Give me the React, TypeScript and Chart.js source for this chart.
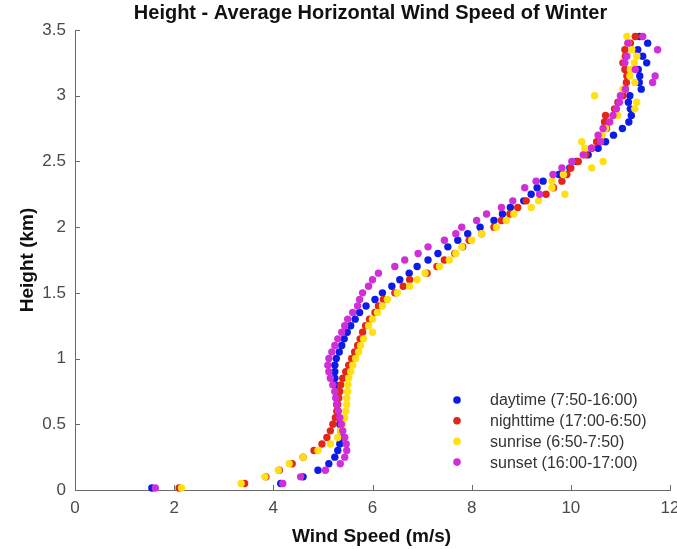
import { useEffect, useRef } from "react";
import { Chart, registerables } from "chart.js";

Chart.register(...registerables);

// Height gates (km)
const heights = [
  0.015, 0.05, 0.1, 0.15, 0.2, 0.25, 0.3, 0.35, 0.4, 0.45,
  0.5, 0.55, 0.6, 0.65, 0.7, 0.75, 0.8, 0.85, 0.9, 0.95,
  1.0, 1.05, 1.1, 1.15, 1.2, 1.25, 1.3, 1.35, 1.4, 1.45,
  1.5, 1.55, 1.6, 1.65, 1.7, 1.75, 1.8, 1.85, 1.9, 1.95,
  2.0, 2.05, 2.1, 2.15, 2.2, 2.25, 2.3, 2.35, 2.4, 2.45,
  2.5, 2.55, 2.6, 2.65, 2.7, 2.75, 2.8, 2.85, 2.9, 2.95,
  3.0, 3.05, 3.1, 3.15, 3.2, 3.25, 3.3, 3.35, 3.4, 3.45,
];

// Average horizontal wind speed (m/s) at each height
const daytime = [
  1.55, 4.15, 4.6, 4.9, 5.12, 5.24, 5.3, 5.34, 5.36, 5.36,
  5.34, 5.32, 5.3, 5.28, 5.27, 5.26, 5.25, 5.24, 5.24, 5.24,
  5.27, 5.33, 5.38, 5.43, 5.49, 5.56, 5.65, 5.74, 5.87, 6.05,
  6.2, 6.39, 6.55, 6.74, 6.9, 7.12, 7.32, 7.52, 7.72, 7.92,
  8.17, 8.45, 8.62, 8.78, 9.05, 9.2, 9.32, 9.44, 9.76, 9.98,
  10.12, 10.35, 10.55, 10.7, 10.86, 11.04, 11.17, 11.22, 11.2, 11.16,
  11.19, 11.42, 11.38, 11.39, 11.36, 11.53, 11.45, 11.35, 11.55, 11.39,
];

const nighttime = [
  2.1, 3.42, 3.85, 4.12, 4.38, 4.6, 4.82, 4.98, 5.08, 5.15,
  5.2, 5.25, 5.28, 5.3, 5.32, 5.34, 5.36, 5.4, 5.46, 5.52,
  5.58, 5.64, 5.7, 5.75, 5.8, 5.86, 5.94, 6.05, 6.12, 6.22,
  6.45, 6.62, 6.75, 7.1, 7.3, 7.45, 7.66, 7.82, 7.95, 8.2,
  8.45, 8.6, 8.77, 8.93, 9.1, 9.5, 9.65, 9.82, 9.92, 10.0,
  10.15, 10.3, 10.42, 10.52, 10.62, 10.72, 10.68, 10.7, 10.88, 10.95,
  11.05, 11.1, 11.12, 11.13, 11.09, 11.05, 11.1, 11.09, 11.2, 11.3,
];

const sunrise = [
  2.15, 3.35, 3.83, 4.1, 4.32, 4.6, 4.9, 5.15, 5.3, 5.36,
  5.4, 5.44, 5.46, 5.48, 5.48, 5.5, 5.5, 5.52, 5.56, 5.6,
  5.66, 5.72, 5.76, 5.82, 6.0, 5.92, 6.0, 6.1, 6.2, 6.3,
  6.5, 6.75, 6.9, 7.06, 7.35, 7.55, 7.68, 7.8, 8.0, 8.2,
  8.5, 8.7, 8.85, 9.2, 9.35, 9.88, 9.62, 9.62, 9.85, 10.42,
  10.65, 10.25, 10.28, 10.22, 10.63, 10.7, 10.8, 10.95, 11.29, 11.33,
  10.48, 11.05, 11.29, 11.19, 11.2, 11.28, 11.33, 11.23, 11.15, 11.13,
];

const sunset = [
  1.62, 4.19, 4.55, 5.05, 5.35, 5.44, 5.48, 5.47, 5.44, 5.4,
  5.37, 5.34, 5.31, 5.28, 5.26, 5.24, 5.2, 5.15, 5.12, 5.1,
  5.12, 5.18, 5.24, 5.3, 5.38, 5.44, 5.5, 5.6, 5.7, 5.74,
  5.8, 5.92, 6.0, 6.12, 6.45, 6.65, 6.92, 7.12, 7.45, 7.68,
  7.8, 8.1, 8.3, 8.6, 8.83, 9.37, 9.07, 9.3, 9.64, 9.82,
  10.02, 10.25, 10.42, 10.6, 10.55, 10.65, 10.78, 10.85, 10.92, 10.98,
  11.0, 11.1, 11.65, 11.7, 11.3, 11.09, 11.13, 11.75, 11.15, 11.45,
];

const seriesValues = [daytime, nighttime, sunrise, sunset];
const seriesLabels = [
  "daytime (7:50-16:00)",
  "nighttime (17:00-6:50)",
  "sunrise (6:50-7:50)",
  "sunset (16:00-17:00)",
];
const seriesColors = ["#0d1be6", "#e3261a", "#ffe014", "#d02ed6"];

const xTicks = [0, 2, 4, 6, 8, 10, 12];
const yTicks = [0, 0.5, 1, 1.5, 2, 2.5, 3, 3.5];

const chartTitle = "Height - Average Horizontal Wind Speed of Winter";
const xTitle = "Wind Speed (m/s)";
const yTitle = "Height (km)";

const FONT = "'Liberation Sans', Arial, Helvetica, sans-serif";

// Title, axis titles, inward tick marks and the in-plot legend
const decorations = {
  id: "decorations",
  afterDatasetsDraw(chart: any) {
    const { ctx, chartArea, scales } = chart;
    const xs = scales.x;
    const ys = scales.y;
    ctx.save();

    // inward ticks
    ctx.strokeStyle = "#6a6a6a";
    ctx.lineWidth = 1;
    ctx.beginPath();
    xTicks.forEach((v) => {
      const px = Math.round(xs.getPixelForValue(v)) + 0.5;
      ctx.moveTo(px, chartArea.bottom);
      ctx.lineTo(px, chartArea.bottom - 5);
    });
    yTicks.forEach((v) => {
      const py = Math.round(ys.getPixelForValue(v)) + 0.5;
      ctx.moveTo(chartArea.left, py);
      ctx.lineTo(chartArea.left + 5, py);
    });
    ctx.stroke();

    // legend
    const lx = chartArea.right - 213;
    const ly = chartArea.bottom - 90;
    ctx.font = `16px ${FONT}`;
    ctx.textBaseline = "middle";
    ctx.textAlign = "left";
    seriesLabels.forEach((label, i) => {
      const y = ly + i * 20.7;
      ctx.fillStyle = seriesColors[i];
      ctx.beginPath();
      ctx.arc(lx, y, 3.8, 0, Math.PI * 2);
      ctx.fill();
      ctx.fillStyle = "#333333";
      ctx.fillText(label, lx + 33, y + 1);
    });

    // titles
    const cx = (chartArea.left + chartArea.right) / 2;
    ctx.fillStyle = "#111111";
    ctx.textAlign = "center";
    ctx.font = `bold 20px ${FONT}`;
    ctx.fillText(chartTitle, cx - 2, 13);
    ctx.font = `bold 19px ${FONT}`;
    ctx.fillText(xTitle, cx - 1, 537);
    ctx.translate(28, (chartArea.top + chartArea.bottom) / 2);
    ctx.rotate(-Math.PI / 2);
    ctx.fillText(yTitle, 0, 0);
    ctx.restore();
  },
};

export default function App() {
  const ref = useRef<HTMLCanvasElement>(null);

  useEffect(() => {
    if (!ref.current) return;
    const datasets = seriesValues.map((vals, i) => ({
      label: seriesLabels[i],
      data: vals.map((x, k) => ({ x, y: heights[k] })),
      backgroundColor: seriesColors[i],
      borderWidth: 0,
      pointRadius: 3.7,
      pointHoverRadius: 3.7,
      showLine: false,
      clip: false as any,
      order: seriesValues.length - i,
    }));

    const chart = new Chart(ref.current, {
      type: "scatter",
      data: { datasets },
      plugins: [decorations],
      options: {
        animation: false,
        responsive: false,
        devicePixelRatio: 1,
        events: [],
        layout: { padding: { left: 0, right: 7, top: 30, bottom: 0 } },
        plugins: {
          legend: { display: false },
          title: { display: false },
          tooltip: { enabled: false },
        },
        scales: {
          x: {
            type: "linear",
            min: 0,
            max: 12,
            afterBuildTicks: (s: any) => {
              s.ticks = xTicks.map((v) => ({ value: v }));
            },
            afterFit: (s: any) => {
              s.height = 59;
              s.paddingLeft = 0;
              s.paddingRight = 0;
            },
            ticks: {
              font: { family: FONT, size: 17 },
              color: "#4a4a4a",
              padding: 8,
              maxRotation: 0,
              autoSkip: false,
              callback: (v: any) => String(v),
            },
            grid: { display: true, drawOnChartArea: false, drawTicks: false, color: "rgba(0,0,0,0)" },
            border: { display: true, color: "#6a6a6a", width: 1 },
          },
          y: {
            type: "linear",
            min: 0,
            max: 3.5,
            afterBuildTicks: (s: any) => {
              s.ticks = yTicks.map((v) => ({ value: v }));
            },
            afterFit: (s: any) => {
              s.width = 75;
              s.paddingTop = 0;
              s.paddingBottom = 0;
            },
            ticks: {
              font: { family: FONT, size: 17 },
              color: "#4a4a4a",
              padding: 9,
              autoSkip: false,
              callback: (v: any) => String(v),
            },
            grid: { display: true, drawOnChartArea: false, drawTicks: false, color: "rgba(0,0,0,0)" },
            border: { display: true, color: "#6a6a6a", width: 1 },
          },
        },
      },
    });
    return () => chart.destroy();
  }, []);

  return (
    <div
      style={{
        position: "absolute",
        left: 0,
        top: 0,
        width: 677,
        height: 549,
        background: "#ffffff",
      }}
    >
      <canvas ref={ref} width={677} height={549} style={{ display: "block", width: 677, height: 549 }} />
    </div>
  );
}
